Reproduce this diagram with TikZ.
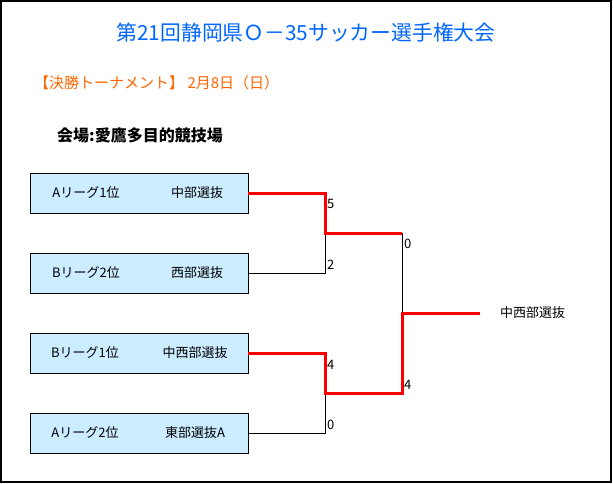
\documentclass[tikz,border=0pt]{standalone}
\usepackage{fontspec}
\setmainfont{Noto Sans CJK JP}
\usepackage{tikz}
\usetikzlibrary{positioning}
\definecolor{titleblue}{RGB}{0,102,255}
\definecolor{dayorange}{RGB}{255,102,0}
\definecolor{boxblue}{RGB}{204,236,255}
\begin{document}
\begin{tikzpicture}[x=1pt, y=-1pt,
    team/.style={draw, fill=boxblue, rectangle, minimum width=218pt, minimum height=40pt, inner sep=0pt},
    txt/.style={font=\fontsize{13}{15}\selectfont, inner sep=0pt},
    score/.style={font=\fontsize{13}{15}\selectfont, inner sep=0pt, anchor=west},
    win/.style={red, line width=3pt},
    lose/.style={black, line width=0.8pt}]
    \useasboundingbox (0,0) rectangle (613,484);
    \draw[line width=1.5pt] (1,1) rectangle (611,482);

    % 見出し
    \node[font=\fontsize{20.8}{24}\selectfont, text=titleblue] (title) at (306,33) {第21回静岡県Ｏ－35サッカー選手権大会};
    \node[font=\fontsize{15}{17}\selectfont, text=dayorange, anchor=west, inner sep=0pt] (day) at (34,83) {【決勝トーナメント】 2月8日（日）};
    \node[font=\fontsize{16}{18}\selectfont\bfseries, anchor=west, inner sep=0pt] (venue) at (57,135) {会場:愛鷹多目的競技場};

    % 出場チーム
    \node[team] (a1) at (139,193) {};
    \node[team] (b2) at (139,273) {};
    \node[team] (b1) at (139,353) {};
    \node[team] (a2) at (139,433) {};

    \node[txt] at ([xshift=-53pt]a1.center) {Aリーグ1位};
    \node[txt] at ([xshift=58pt]a1.center) {中部選抜};
    \node[txt] at ([xshift=-53pt]b2.center) {Bリーグ2位};
    \node[txt] at ([xshift=58pt]b2.center) {西部選抜};
    \node[txt] at ([xshift=-54pt]b1.center) {Bリーグ1位};
    \node[txt] at ([xshift=56pt]b1.center) {中西部選抜};
    \node[txt] at ([xshift=-54pt]a2.center) {Aリーグ2位};
    \node[txt] at ([xshift=56pt]a2.center) {東部選抜A};

    % 組み合わせの分岐点
    \coordinate (m1) at (325,233);
    \coordinate (m2) at (325,393);
    \coordinate (s1) at (402,233);
    \coordinate (s2) at (402,393);
    \coordinate (f) at (402,313);
    \coordinate (w) at (480,313);

    % 負けた側
    \draw[lose] (b2.east) -| (m1);
    \draw[lose] (a2.east) -| (m2);
    \draw[lose] (s1) -- (f);

    % 勝ち上がり
    \draw[win] (a1.east) -| (m1) -- (s1);
    \draw[win] (b1.east) -| (m2) -- (s2) -- (f) -- (w);

    \node[txt, anchor=west] (champ) at (500,313) {中西部選抜};

    % 得点
    \node[score] at (327,204) {5};
    \node[score] at (327,265) {2};
    \node[score] at (404,244) {0};
    \node[score] at (327,365) {4};
    \node[score] at (327,425) {0};
    \node[score] at (404,385) {4};
\end{tikzpicture}
\end{document}
